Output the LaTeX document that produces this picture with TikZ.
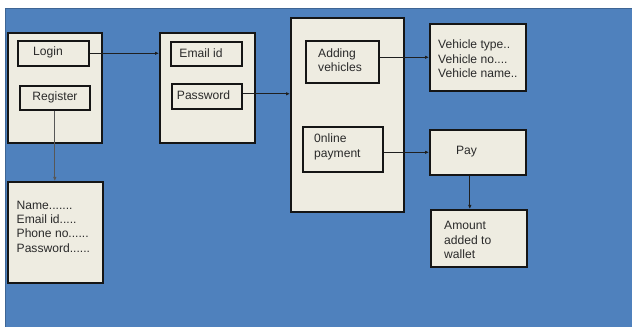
\documentclass[tikz,border=0pt]{standalone}
\usepackage{fontspec}
\setmainfont{Liberation Sans}
\usetikzlibrary{arrows.meta}
\definecolor{bgblue}{HTML}{4F81BD}
\definecolor{bgedge}{HTML}{3E6594}
\definecolor{boxfill}{HTML}{EEECE1}
\definecolor{boxline}{HTML}{151515}
\definecolor{txt}{HTML}{2A2A2A}
\definecolor{arrcol}{HTML}{1F1F1F}
\tikzset{
  bx/.style={draw=boxline, fill=boxfill, line width=1.6pt, inner sep=0pt, anchor=north west},
  lbl/.style={text=txt, font=\fontsize{12.1}{14.4}\selectfont, inner sep=0pt, align=left},
  arr/.style={-{Latex[length=4pt,width=3.5pt]}, line width=0.8pt, draw=arrcol}
}
\begin{document}
\begin{tikzpicture}[x=1pt,y=-1pt]
\useasboundingbox (0,0) rectangle (632,328);
\fill[white] (0,0) rectangle (632,328);
\fill[bgblue] (5,8) rectangle (632,327);
\draw[bgedge, line width=1.2pt] (5.6,327) -- (5.6,8.6) -- (632,8.6);

% containers
\node[bx, minimum width=94pt, minimum height=110pt] (b1) at (7,32) {};
\node[bx, minimum width=95pt, minimum height=110pt] (b2) at (159,32) {};
\node[bx, minimum width=113pt, minimum height=194pt] (b3) at (290,17) {};
\node[bx, minimum width=96pt, minimum height=67pt] (vbox) at (429,23) {};
\node[bx, minimum width=96pt, minimum height=45pt] (pay) at (429,129) {};
\node[bx, minimum width=96pt, minimum height=57pt] (amount) at (430,209) {};
\node[bx, minimum width=95pt, minimum height=101pt] (reg) at (7,181) {};

% inner boxes
\node[bx, minimum width=71pt, minimum height=25pt] (login) at (17,40) {};
\node[bx, minimum width=70pt, minimum height=24pt] (register) at (19,85) {};
\node[bx, minimum width=71pt, minimum height=24pt] (email) at (170,41) {};
\node[bx, minimum width=70pt, minimum height=25pt] (password) at (171,83) {};
\node[bx, minimum width=73pt, minimum height=42pt] (adding) at (305,40) {};
\node[bx, minimum width=80pt, minimum height=45pt] (online) at (302,126) {};

% texts
\node[lbl] (tlogin) at (48,52.5) {Login};
\node[lbl] (tregister) at (55,97) {Register};
\node[lbl] (temail) at (201,53) {Email id};
\node[lbl] (tpassword) at (203.5,95.5) {Password};
\node[lbl, anchor=west] (tadding) at (318,60) {Adding\\vehicles};
\node[lbl, anchor=west] (tonline) at (314,147) {0nline\\payment};
\node[lbl, anchor=west] (tvehicle) at (438,59) {Vehicle type..\\Vehicle no....\\Vehicle name..};
\node[lbl] (tpay) at (466.5,152) {Pay};
\node[lbl, anchor=west] (tamount) at (444,240) {Amount\\added to\\wallet};
\node[lbl, anchor=west] (treg) at (16.5,226.5) {Name.......\\Email id.....\\Phone no......\\Password......};

% connectors
\draw[arr] (login.east) -- (login.east -| b2.west);
\draw[arr] ([yshift=2.5pt]password.east) -- ([yshift=2.5pt]password.east -| b3.west);
\draw[arr] (vbox.west -| adding.east) -- (vbox.west);
\draw[arr] (pay.west -| online.east) -- (pay.west);
\draw[arr, draw=arrcol!75] (register.south) -- (register.south |- reg.north);
\draw[arr] ([xshift=-8pt]pay.south) -- ([xshift=-8pt]pay.south |- amount.north);
\end{tikzpicture}
\end{document}
